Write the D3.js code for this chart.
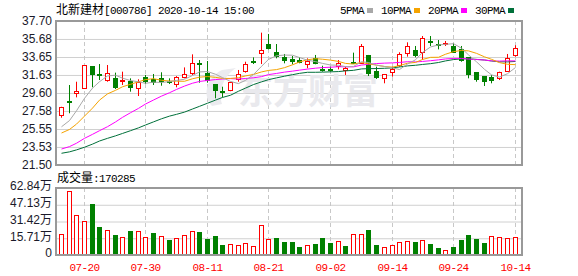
<!DOCTYPE html>
<html>
<head>
<meta charset="utf-8">
<script src="https://cdn.jsdelivr.net/npm/d3@7"></script>
<style>
  body { margin: 0; background: #fff; }
  svg { display: block; }
  .mono { font-family: "Liberation Mono", monospace; font-size: 11px; letter-spacing: -0.6px; }
  .cjk { font-family: "Noto Sans CJK SC", sans-serif; font-size: 12px; }
</style>
</head>
<body>
<svg id="chart" width="578" height="276"></svg>
<script>
const dates = ["07-15","07-16","07-17","07-20","07-21","07-22","07-23","07-24","07-27","07-28",
  "07-29","07-30","07-31","08-03","08-04","08-05","08-06","08-07","08-10","08-11",
  "08-12","08-13","08-14","08-17","08-18","08-19","08-20","08-21","08-24","08-25",
  "08-26","08-27","08-28","08-31","09-01","09-02","09-03","09-04","09-07","09-08",
  "09-09","09-10","09-11","09-14","09-15","09-16","09-17","09-18","09-21","09-22",
  "09-23","09-24","09-25","09-28","09-29","09-30","10-09","10-12","10-13","10-14"];

const open = [27.09,28.65,29.60,30.09,32.60,31.70,31.06,31.25,30.99,30.99,
  30.24,31.44,31.18,31.25,30.92,30.61,31.36,31.81,32.98,31.89,
  30.61,29.86,29.86,31.14,32.11,33.25,34.14,35.11,34.18,33.61,
  33.42,33.30,32.94,33.54,32.30,32.30,32.56,32.19,33.10,33.01,
  33.88,32.07,31.25,31.89,32.75,34.07,34.44,34.18,35.49,35.10,
  35.17,34.89,34.51,33.61,31.93,31.51,31.44,31.33,32.11,33.80];
const high = [28.05,30.50,30.87,32.75,32.60,32.86,32.75,31.89,32.00,31.25,
  31.14,31.63,31.74,31.93,31.25,31.50,32.48,33.95,33.31,33.20,
  30.61,30.31,30.85,32.19,33.12,33.61,36.39,36.24,35.11,33.99,
  33.76,33.65,33.50,33.88,32.67,32.56,33.31,32.56,34.14,35.11,
  33.88,32.56,31.74,32.56,34.18,35.30,34.89,36.01,36.01,35.56,
  35.45,35.19,34.89,33.61,31.93,31.51,31.63,32.00,33.99,34.97];
const low = [26.82,27.32,29.11,30.05,30.24,31.06,30.87,30.05,30.50,29.75,
  29.26,30.61,30.50,30.42,30.61,30.24,31.25,31.63,30.76,30.76,
  29.00,29.11,29.80,30.87,31.89,32.86,32.86,34.51,33.50,32.94,
  32.82,32.94,32.38,32.83,32.00,32.00,32.26,31.63,32.94,32.94,
  31.51,31.18,30.69,31.44,32.56,33.69,33.61,33.31,34.89,34.51,
  34.89,34.18,33.12,31.25,30.87,30.39,30.69,31.06,32.00,33.69];
const close = [27.99,28.55,29.82,32.71,31.66,31.60,31.81,30.20,31.10,30.31,
  30.87,30.99,30.85,30.90,30.85,31.44,31.70,32.94,32.90,31.06,
  29.94,29.82,30.80,31.70,32.86,33.20,34.44,34.70,33.76,33.23,
  33.14,33.10,33.23,32.94,32.26,32.24,32.94,32.45,33.05,34.92,
  31.81,31.44,31.74,32.26,33.95,34.89,33.88,35.75,35.45,35.07,
  35.21,34.25,33.23,31.70,31.14,30.99,31.14,32.00,33.58,34.63];

const volume = [194000,600000,372000,316000,478000,263000,231000,188000,166000,225000,
  222000,166000,206000,175000,141000,156000,184000,222000,216000,150000,
  178000,94000,100000,91000,109000,81000,278000,147000,159000,122000,
  122000,75000,91000,103000,159000,113000,131000,84000,194000,194000,
  234000,94000,72000,91000,122000,131000,122000,141000,103000,66000,
  44000,75000,141000,188000,150000,113000,178000,169000,159000,170285];

const ma5 = [25.80,26.50,27.60,29.00,30.15,30.87,31.52,31.60,31.27,31.00,
  30.86,30.69,30.82,30.78,30.89,31.01,31.15,31.57,31.97,32.01,
  31.71,31.33,30.90,30.66,31.02,31.68,32.60,33.38,33.79,33.87,
  33.85,33.59,33.29,33.13,32.93,32.75,32.72,32.57,32.59,33.12,
  33.03,32.73,32.59,32.43,32.24,32.86,33.34,34.15,34.78,35.01,
  35.07,35.15,34.64,33.89,33.11,32.26,31.64,31.39,31.77,32.47];
const ma10 = [25.10,25.50,26.10,27.00,27.90,28.80,29.50,29.90,30.30,30.58,
  30.86,31.11,31.21,31.03,30.95,30.93,30.92,31.20,31.38,31.45,
  31.36,31.24,31.24,31.32,31.52,31.69,31.97,32.14,32.23,32.45,
  32.77,33.09,33.34,33.46,33.40,33.30,33.15,32.93,32.86,33.03,
  32.89,32.73,32.58,32.51,32.68,32.95,33.04,33.37,33.61,33.62,
  33.96,34.25,34.39,34.34,34.06,33.67,33.39,33.02,32.83,32.79];
const ma20 = [23.30,23.57,23.95,24.50,24.95,25.36,25.81,26.34,26.86,27.38,
  27.87,28.36,28.81,29.25,29.63,30.00,30.38,30.70,30.90,31.01,
  31.11,31.17,31.22,31.17,31.23,31.31,31.44,31.67,31.80,31.95,
  32.06,32.17,32.29,32.39,32.46,32.50,32.56,32.54,32.54,32.74,
  32.83,32.91,32.96,32.99,33.04,33.12,33.10,33.15,33.23,33.33,
  33.43,33.49,33.49,33.42,33.37,33.31,33.22,33.19,33.22,33.21];
const ma30 = [22.82,22.98,23.20,23.50,23.85,24.20,24.50,24.78,25.05,25.36,
  25.68,26.00,26.35,26.70,27.00,27.20,27.45,27.80,28.10,28.45,
  28.80,29.10,29.35,29.80,30.15,30.55,30.85,31.10,31.30,31.49,
  31.66,31.81,31.93,31.93,31.95,31.98,32.01,32.09,32.15,32.31,
  32.34,32.35,32.38,32.43,32.53,32.65,32.72,32.81,32.90,33.03,
  33.21,33.36,33.44,33.44,33.38,33.31,33.20,33.11,33.10,33.15];

const priceTicks = ["21.50","23.53","25.55","27.58","29.60","31.63","33.65","35.68","37.70"];
const volTicks = [0, 157100, 314200, 471300, 628400];
const volTickLabels = ["0","15.71万","31.42万","47.13万","62.84万"];
const dateTicks = ["07-20","07-30","08-11","08-21","09-02","09-14","09-24","10-14"];
const maNames = ["5PMA","10PMA","20PMA","30PMA"];
const maColors = ["#a8a8a8","#f5a300","#ff00ff","#00703a"];

const RED = "#ff0000", GREEN = "#008000";
const left = 56, right = 522;
const pTop = 21, pBottom = 165;
const vTop = 188, vBottom = 255;

const svg = d3.select("#chart");

const x = d3.scaleBand().domain(dates).range([57, 518.4]);
const xc = d => Math.round(x(d) + x.bandwidth() / 2);
const y = d3.scaleLinear().domain([21.50, 37.70]).range([pBottom, pTop]);
const yv = d3.scaleLinear().domain([0, 628400]).range([vBottom, vTop]);

// grids
function hGrid(scale, values) {
  const g = svg.append("g")
    .attr("transform", `translate(${left},0)`)
    .call(d3.axisLeft(scale).tickValues(values).tickSize(-(right - left)).tickFormat(""));
  g.select(".domain").remove();
  g.selectAll("line").attr("stroke", "#d0d0d0");
}
function vGrid(top, bottom) {
  const g = svg.append("g")
    .attr("transform", `translate(0.5,${bottom})`)
    .call(d3.axisBottom(x).tickValues(dateTicks).tickSize(-(bottom - top)).tickFormat(""));
  g.select(".domain").remove();
  g.selectAll(".tick").attr("transform", d => `translate(${xc(d)},0)`);
  g.selectAll("line").attr("stroke", "#c8c8c8").attr("stroke-dasharray", "4,3");
}
hGrid(y, priceTicks.map(Number));
hGrid(yv, volTicks);
vGrid(pTop, pBottom);
vGrid(vTop, vBottom);

// watermark (logo swoosh + name)
svg.append("path")
  .attr("d", "M212,106 C202,96 206,78 222,70 L236,68 C224,76 218,90 222,104 Z")
  .attr("fill", "#ebebef");
svg.append("text")
  .attr("x", 238).attr("y", 104)
  .attr("font-family", "Noto Sans CJK SC").attr("font-weight", "bold")
  .attr("font-size", 35).attr("fill", "#e9e9ed")
  .text("东方财富");

// candles
const idx = d3.range(dates.length);
const candles = svg.append("g").selectAll("g").data(idx).join("g");
candles.append("line")
  .attr("x1", i => xc(dates[i]) + 0.5).attr("x2", i => xc(dates[i]) + 0.5)
  .attr("y1", i => y(high[i])).attr("y2", i => y(low[i]))
  .attr("stroke", i => close[i] >= open[i] ? RED : GREEN);
candles.append("rect")
  .attr("x", i => xc(dates[i]) - 1.5)
  .attr("width", 4)
  .attr("y", i => Math.round(y(Math.max(open[i], close[i]))) + 0.5)
  .attr("height", i => Math.max(1, Math.round(Math.abs(y(open[i]) - y(close[i])))))
  .attr("fill", i => close[i] >= open[i] ? "#fff" : GREEN)
  .attr("stroke", i => close[i] >= open[i] ? RED : GREEN);

// moving averages
const line = d3.line().x((v, i) => xc(dates[i]) + 0.5).y(v => y(v));
[ma30, ma20, ma10, ma5].forEach((arr, k) => {
  svg.append("path")
    .attr("d", line(arr))
    .attr("fill", "none")
    .attr("stroke", maColors[3 - k])
    .attr("stroke-width", 1);
});

// volume bars
svg.append("g").selectAll("rect").data(idx).join("rect")
  .attr("x", i => xc(dates[i]) - 1.5)
  .attr("width", 4)
  .attr("y", i => Math.round(yv(volume[i])) + 0.5)
  .attr("height", i => vBottom - Math.round(yv(volume[i])) - 1)
  .attr("fill", i => (i === 0 || close[i] >= close[i - 1]) ? "#fff" : GREEN)
  .attr("stroke", i => (i === 0 || close[i] >= close[i - 1]) ? RED : GREEN);

// panel borders
[[pTop, pBottom], [vTop, vBottom]].forEach(([t, b]) => {
  svg.append("rect")
    .attr("x", left).attr("y", t)
    .attr("width", right - left).attr("height", b - t)
    .attr("fill", "none").attr("stroke", "#999").attr("stroke-width", 2);
});

// axes labels
const pAxis = svg.append("g")
  .attr("transform", `translate(${left},0)`)
  .call(d3.axisLeft(y).tickValues(priceTicks.map(Number)).tickSize(0).tickPadding(4)
    .tickFormat((d, i) => priceTicks[i]));
pAxis.select(".domain").remove();
pAxis.selectAll("text")
  .attr("font-family", "Liberation Sans, Arial, sans-serif").attr("font-size", 12).attr("fill", "#1a1a2a");

const vAxis = svg.append("g")
  .attr("transform", `translate(${left},-2)`)
  .call(d3.axisLeft(yv).tickValues(volTicks).tickSize(0).tickPadding(4)
    .tickFormat((d, i) => volTickLabels[i]));
vAxis.select(".domain").remove();
vAxis.selectAll("text")
  .attr("font-family", "Liberation Sans, 'Noto Sans CJK SC', sans-serif").attr("font-size", 12).attr("fill", "#1a1a2a");

const xAxis = svg.append("g")
  .attr("transform", `translate(0.5,${vBottom})`)
  .call(d3.axisBottom(x).tickValues(dateTicks).tickSize(0).tickPadding(8));
xAxis.select(".domain").remove();
xAxis.selectAll(".tick").attr("transform", d => `translate(${xc(d)},0)`);
xAxis.selectAll("text").attr("class", "mono").attr("fill", RED).attr("font-size", null).attr("font-family", null);

// title
const title = svg.append("text").attr("x", 56).attr("y", 14).attr("fill", "#000");
title.append("tspan").attr("class", "cjk").text("北新建材");
title.append("tspan").attr("class", "mono").text("[000786] 2020-10-14 15:00");

// legend
let lx = 340;
maNames.forEach((name, k) => {
  svg.append("text").attr("class", "mono").attr("x", lx).attr("y", 14).attr("fill", "#000").text(name);
  const sx = lx + 6 * name.length + 3;
  svg.append("rect").attr("x", sx).attr("y", 8).attr("width", 6).attr("height", 5).attr("fill", maColors[k]);
  lx = sx + 14;
});

// volume caption
const cap = svg.append("text").attr("x", 57).attr("y", 182).attr("fill", "#000");
cap.append("tspan").attr("class", "cjk").text("成交量");
cap.append("tspan").attr("class", "mono").text(":" + volume[volume.length - 1]);
</script>
</body>
</html>
